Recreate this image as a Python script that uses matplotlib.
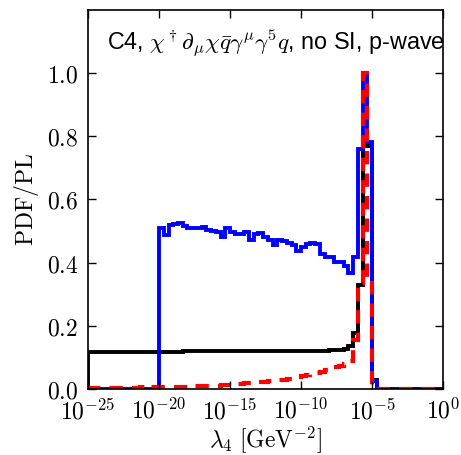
import numpy as np
import matplotlib
matplotlib.use("Agg")
import matplotlib.pyplot as plt
from matplotlib.ticker import FixedLocator, FuncFormatter, NullLocator

plt.rcParams["mathtext.fontset"] = "cm"

# histogram bin edges in log10(lambda_4), 1/3 decade wide
log_edges = np.linspace(-25, 0, 76)

# black: flat, then rising into the peak
pdf_black = [
    0.118, 0.118, 0.118, 0.118, 0.118, 0.118, 0.118, 0.118, 0.118, 0.118,
    0.118, 0.118, 0.118, 0.118, 0.118, 0.118, 0.118, 0.118, 0.118, 0.118,
    0.119, 0.119, 0.119, 0.119, 0.119, 0.119, 0.119, 0.119, 0.119, 0.119,
    0.119, 0.119, 0.119, 0.119, 0.119, 0.119, 0.119, 0.119, 0.119, 0.119,
    0.120, 0.120, 0.120, 0.120, 0.120, 0.120, 0.120, 0.120, 0.120, 0.120,
    0.121, 0.122, 0.122, 0.123, 0.125, 0.137, 0.177, 0.330, 0.780, 0.770,
    0.030, 0.0, 0.0, 0.0, 0.0, 0.0, 0.0, 0.0, 0.0, 0.0,
    0.0, 0.0, 0.0, 0.0, 0.0,
]

# blue: zero below 1e-20, plateau then peak
pdf_blue = [
    0.0, 0.0, 0.0, 0.0, 0.0, 0.0, 0.0, 0.0, 0.0, 0.0,
    0.0, 0.0, 0.0, 0.0, 0.0,
    0.508, 0.487, 0.519, 0.522, 0.524, 0.515, 0.508, 0.508, 0.508, 0.512,
    0.503, 0.500, 0.495, 0.482, 0.508, 0.495, 0.490, 0.490, 0.497, 0.472,
    0.490, 0.492, 0.480, 0.470, 0.456, 0.472, 0.468, 0.462, 0.456, 0.438,
    0.448, 0.458, 0.462, 0.460, 0.427, 0.416, 0.416, 0.403, 0.403, 0.390,
    0.367, 0.418,
    0.760, 1.000, 0.780, 0.025, 0.0, 0.0, 0.0, 0.0, 0.0, 0.0,
    0.0, 0.0, 0.0, 0.0, 0.0, 0.0, 0.0, 0.0,
]

# red dashed: slowly rising tail, then narrow peak
pdf_red = [
    0.003, 0.003, 0.003, 0.003, 0.004, 0.003, 0.004, 0.004, 0.004, 0.004,
    0.004, 0.005, 0.004, 0.005, 0.005, 0.005, 0.006, 0.005, 0.006, 0.006,
    0.007, 0.007, 0.008, 0.008, 0.009, 0.010, 0.010, 0.011, 0.012, 0.013,
    0.014, 0.015, 0.016, 0.018, 0.019, 0.020, 0.022, 0.023, 0.025, 0.027,
    0.028, 0.030, 0.032, 0.035, 0.038, 0.041, 0.044, 0.047, 0.051, 0.055,
    0.059, 0.064, 0.069, 0.074, 0.080, 0.088, 0.155, 0.335, 1.000, 0.335,
    0.0, 0.0, 0.0, 0.0, 0.0, 0.0, 0.0, 0.0, 0.0, 0.0,
    0.0, 0.0, 0.0, 0.0, 0.0,
]

xtick_exps = [-25, -20, -15, -10, -5, 0]
yticks = [0.0, 0.2, 0.4, 0.6, 0.8, 1.0]

edges = 10.0 ** log_edges

fig = plt.figure(figsize=(4.61, 4.55), dpi=100)
ax = fig.add_axes([0.191, 0.145, 0.770, 0.834])

ax.stairs(pdf_black, edges, color="black", lw=2.8)
ax.stairs(pdf_blue, edges, color="blue", lw=2.8)
ax.stairs(pdf_red, edges, color="red", lw=3.0, linestyle=(0, (3.2, 2.2)))

ax.set_xscale("log")
ax.set_xlim(1e-25, 1e0)
ax.set_ylim(0, 1.2)

ax.xaxis.set_major_locator(FixedLocator([10.0 ** e for e in xtick_exps]))
ax.xaxis.set_minor_locator(NullLocator())
ax.xaxis.set_major_formatter(FuncFormatter(lambda v, p: r"$10^{%d}$" % round(np.log10(v))))
ax.yaxis.set_major_locator(FixedLocator(yticks))
ax.yaxis.set_major_formatter(FuncFormatter(lambda v, p: r"$%.1f$" % v))

ax.tick_params(which="major", direction="in", top=True, right=True,
               length=6, width=1, labelsize=17, pad=7)
for s in ax.spines.values():
    s.set_linewidth(1.2)

ax.set_xlabel(r"$\lambda_4\ [\mathrm{GeV}^{-2}]$", fontsize=17, labelpad=0)
ax.set_ylabel(r"$\mathrm{PDF/PL}$", fontsize=17, labelpad=4)

ax.text(0.054, 0.911,
        r"C4, $\chi^\dagger\partial_\mu\chi\bar{q}\gamma^\mu\gamma^5q$, no SI, p-wave",
        transform=ax.transAxes, ha="left", va="center",
        fontsize=16.8, family="Liberation Sans")

fig.savefig("out.png", dpi=100)
